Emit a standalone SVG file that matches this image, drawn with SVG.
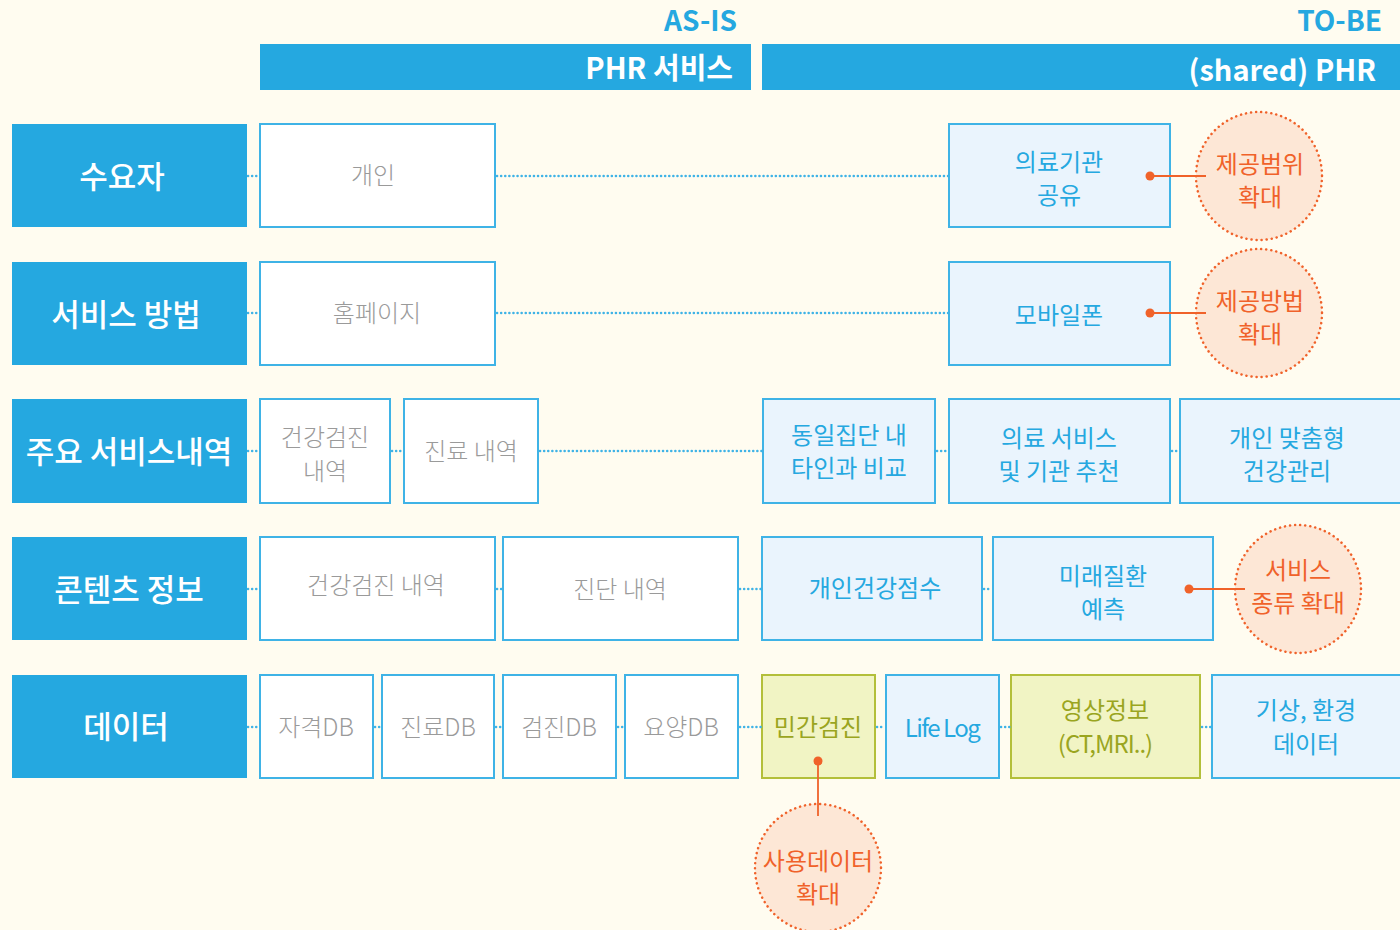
<svg xmlns="http://www.w3.org/2000/svg" width="1400" height="930" viewBox="0 0 1400 930">
<style>
.bg{fill:#fffcf0}
.bar{fill:#25a8e0}
.lbl{fill:#25a8e0}
.lt{font-family:"Noto Sans CJK KR","Noto Sans",sans-serif;font-size:31px;font-weight:500;fill:#ffffff;text-anchor:middle}
.hd{font-family:"Noto Sans CJK KR","Noto Sans",sans-serif;font-weight:700;fill:#25a8e0;text-anchor:end;font-size:28px}
.bt{font-family:"Noto Sans CJK KR","Noto Sans",sans-serif;font-weight:700;fill:#ffffff;text-anchor:end;font-size:29px}
.asis{fill:#ffffff;stroke:#3fb3e6;stroke-width:2}
.tobe{fill:#eaf4fd;stroke:#3fb3e6;stroke-width:2}
.grn{fill:#f1f4c4;stroke:#b3bf3a;stroke-width:2}
.ta{font-family:"Noto Sans CJK KR","Noto Sans",sans-serif;font-size:24px;font-weight:300;fill:#9a9a9a;text-anchor:middle}
.tb{font-family:"Noto Sans CJK KR","Noto Sans",sans-serif;font-size:24px;font-weight:400;fill:#25a8e0;text-anchor:middle}
.tg{font-family:"Noto Sans CJK KR","Noto Sans",sans-serif;font-size:24px;font-weight:400;fill:#9aa51f;text-anchor:middle}
.circ{fill:#fde7d6;stroke:#f0622a;stroke-width:2.5;stroke-dasharray:0.1 5;stroke-linecap:round}
.tc{font-family:"Noto Sans CJK KR","Noto Sans",sans-serif;font-size:24px;font-weight:400;fill:#f0622a;text-anchor:middle}
.dot{stroke:#3fb3e6;stroke-width:2.5;stroke-dasharray:0.1 4;stroke-linecap:round;fill:none}
.ol{stroke:#f0622a;stroke-width:1.8;fill:none}
.od{fill:#f0622a}
</style>
<rect class="bg" x="0" y="0" width="1400" height="930"/>

<g id="header">
<text class="hd" x="737" y="31">AS-IS</text>
<text class="hd" x="1382" y="31">TO-BE</text>
<rect class="bar" x="260" y="44" width="491" height="46"/>
<text class="bt" x="733" y="79">PHR 서비스</text>
<rect class="bar" x="762" y="44" width="638" height="46"/>
<text class="bt" x="1376" y="81">(shared) PHR</text>
</g>

<g id="row-labels">
<g id="lbl-1"><rect class="lbl" x="12" y="124" width="235" height="103"/><text class="lt" x="122" y="188">수요자</text></g>
<g id="lbl-2"><rect class="lbl" x="12" y="262" width="235" height="103"/><text class="lt" x="126" y="326">서비스 방법</text></g>
<g id="lbl-3"><rect class="lbl" x="12" y="399" width="235" height="104"/><text class="lt" x="129" y="463">주요 서비스내역</text></g>
<g id="lbl-4"><rect class="lbl" x="12" y="537" width="235" height="103"/><text class="lt" x="129" y="601">콘텐츠 정보</text></g>
<g id="lbl-5"><rect class="lbl" x="12" y="675" width="235" height="103"/><text class="lt" x="126" y="738">데이터</text></g>
</g>

<g id="row1">
<g id="n-gaein"><rect class="asis" x="260" y="124" width="235" height="103"/><text class="ta" x="373" y="184">개인</text></g>
<g id="n-uiryo"><rect class="tobe" x="949" y="124" width="221" height="103"/><text class="tb" x="1059" y="171">의료기관</text><text class="tb" x="1059" y="204">공유</text></g>
<g id="c-range"><ellipse class="circ" cx="1259" cy="176" rx="63" ry="64"/><text class="tc" x="1260" y="173">제공범위</text><text class="tc" x="1260" y="206">확대</text></g>
</g>

<g id="row2">
<g id="n-home"><rect class="asis" x="260" y="262" width="235" height="103"/><text class="ta" x="377" y="322">홈페이지</text></g>
<g id="n-mobile"><rect class="tobe" x="949" y="262" width="221" height="103"/><text class="tb" x="1059" y="324">모바일폰</text></g>
<g id="c-method"><ellipse class="circ" cx="1259" cy="313" rx="63" ry="64"/><text class="tc" x="1260" y="310">제공방법</text><text class="tc" x="1260" y="343">확대</text></g>
</g>

<g id="row3">
<g id="n-checkup"><rect class="asis" x="260" y="399" width="130" height="104"/><text class="ta" x="325" y="446">건강검진</text><text class="ta" x="325" y="480">내역</text></g>
<g id="n-treat"><rect class="asis" x="404" y="399" width="134" height="104"/><text class="ta" x="471" y="460">진료 내역</text></g>
<g id="n-compare"><rect class="tobe" x="763" y="399" width="172" height="104"/><text class="tb" x="849" y="444">동일집단 내</text><text class="tb" x="849" y="477">타인과 비교</text></g>
<g id="n-recommend"><rect class="tobe" x="949" y="399" width="221" height="104"/><text class="tb" x="1059" y="447">의료 서비스</text><text class="tb" x="1059" y="480">및 기관 추천</text></g>
<g id="n-custom"><rect class="tobe" x="1180" y="399" width="222" height="104"/><text class="tb" x="1287" y="447">개인 맞춤형</text><text class="tb" x="1287" y="480">건강관리</text></g>
</g>

<g id="row4">
<g id="n-checkup2"><rect class="asis" x="260" y="537" width="235" height="103"/><text class="ta" x="376" y="594">건강검진 내역</text></g>
<g id="n-diag"><rect class="asis" x="503" y="537" width="235" height="103"/><text class="ta" x="620" y="598">진단 내역</text></g>
<g id="n-score"><rect class="tobe" x="762" y="537" width="220" height="103"/><text class="tb" x="875" y="597">개인건강점수</text></g>
<g id="n-predict"><rect class="tobe" x="993" y="537" width="220" height="103"/><text class="tb" x="1103" y="585">미래질환</text><text class="tb" x="1103" y="618">예측</text></g>
<g id="c-kind"><ellipse class="circ" cx="1298" cy="589" rx="63" ry="64"/><text class="tc" x="1298" y="579">서비스</text><text class="tc" x="1298" y="612">종류 확대</text></g>
</g>

<g id="row5">
<g id="n-db1"><rect class="asis" x="260" y="675" width="113" height="103"/><text class="ta" x="316" y="736">자격DB</text></g>
<g id="n-db2"><rect class="asis" x="382" y="675" width="112" height="103"/><text class="ta" x="438" y="736">진료DB</text></g>
<g id="n-db3"><rect class="asis" x="503" y="675" width="113" height="103"/><text class="ta" x="559" y="736">검진DB</text></g>
<g id="n-db4"><rect class="asis" x="625" y="675" width="113" height="103"/><text class="ta" x="681" y="736">요양DB</text></g>
<g id="n-private"><rect class="grn" x="762" y="675" width="113" height="103"/><text class="tg" x="818" y="736">민간검진</text></g>
<g id="n-lifelog"><rect class="tobe" x="886" y="675" width="113" height="103"/><text class="tb" x="942" y="737" style="letter-spacing:-1.5px">Life Log</text></g>
<g id="n-image"><rect class="grn" x="1011" y="675" width="189" height="103"/><text class="tg" x="1105" y="719">영상정보</text><text class="tg" x="1105" y="753" style="letter-spacing:-1px">(CT,MRI..)</text></g>
<g id="n-weather"><rect class="tobe" x="1212" y="675" width="190" height="103"/><text class="tb" x="1306" y="719">기상, 환경</text><text class="tb" x="1306" y="753">데이터</text></g>
<g id="c-data"><ellipse class="circ" cx="818" cy="868" rx="63" ry="64"/><text class="tc" x="818" y="870">사용데이터</text><text class="tc" x="818" y="903">확대</text></g>
</g>

<g id="connectors">
<line class="dot" x1="248" y1="176" x2="259" y2="176"/>
<line class="dot" x1="497" y1="176" x2="948" y2="176"/>
<line class="dot" x1="248" y1="313" x2="259" y2="313"/>
<line class="dot" x1="497" y1="313" x2="948" y2="313"/>
<line class="dot" x1="248" y1="451" x2="259" y2="451"/>
<line class="dot" x1="392" y1="451" x2="403" y2="451"/>
<line class="dot" x1="540" y1="451" x2="762" y2="451"/>
<line class="dot" x1="937" y1="451" x2="948" y2="451"/>
<line class="dot" x1="1172" y1="451" x2="1179" y2="451"/>
<line class="dot" x1="248" y1="589" x2="259" y2="589"/>
<line class="dot" x1="497" y1="589" x2="502" y2="589"/>
<line class="dot" x1="740" y1="589" x2="761" y2="589"/>
<line class="dot" x1="984" y1="589" x2="992" y2="589"/>
<line class="dot" x1="248" y1="727" x2="259" y2="727"/>
<line class="dot" x1="375" y1="727" x2="381" y2="727"/>
<line class="dot" x1="496" y1="727" x2="502" y2="727"/>
<line class="dot" x1="618" y1="727" x2="624" y2="727"/>
<line class="dot" x1="740" y1="727" x2="761" y2="727"/>
<line class="dot" x1="877" y1="727" x2="885" y2="727"/>
<line class="dot" x1="1001" y1="727" x2="1010" y2="727"/>
<line class="dot" x1="1202" y1="727" x2="1211" y2="727"/>
<line class="ol" x1="1150" y1="176" x2="1206" y2="176"/>
<circle class="od" cx="1150" cy="176" r="4.5"/>
<line class="ol" x1="1150" y1="313" x2="1206" y2="313"/>
<circle class="od" cx="1150" cy="313" r="4.5"/>
<line class="ol" x1="1189" y1="589" x2="1245" y2="589"/>
<circle class="od" cx="1189" cy="589" r="4.5"/>
<line class="ol" x1="818" y1="761" x2="818" y2="816"/>
<circle class="od" cx="818" cy="761" r="4.5"/>
</g>
</svg>
